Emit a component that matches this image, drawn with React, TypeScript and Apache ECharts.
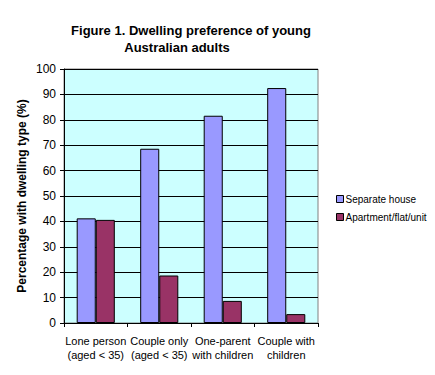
import React, { useEffect, useRef } from "react";
import * as echarts from "echarts";

const categories = ["Lone person\n(aged < 35)", "Couple only\n(aged < 35)", "One-parent\nwith children", "Couple with\nchildren"];
const separateHouse = [41.2, 68.6, 81.6, 92.5];
const apartment = [40.6, 18.7, 8.7, 3.5];
const yTicks = { min: 0, max: 100, interval: 10 };

export default function App() {
  const ref = useRef<HTMLDivElement>(null);
  useEffect(() => {
    const chart = echarts.init(ref.current!, null, { renderer: "svg" });
    const font = "Arial, 'Liberation Sans', sans-serif";
    chart.setOption({
      animation: false,
      backgroundColor: "#ffffff",
      textStyle: { fontFamily: font },
      title: [
        {
          text: "Figure 1. Dwelling preference of young",
          left: 186,
          top: 19,
          textAlign: "center",
          textStyle: { fontFamily: font, fontSize: 13, fontWeight: "bold", color: "#000" },
        },
        {
          text: "Australian adults",
          left: 172,
          top: 36,
          textAlign: "center",
          textStyle: { fontFamily: font, fontSize: 13, fontWeight: "bold", color: "#000" },
        },
      ],
      legend: {
        orient: "vertical",
        left: 331,
        top: 189,
        itemWidth: 7,
        itemHeight: 7,
        itemGap: 8,
        icon: "rect",
        textStyle: { fontFamily: font, fontSize: 10, color: "#000", padding: [0, 0, 0, -3] },
        data: [
          { name: "Separate house", itemStyle: { borderColor: "#000", borderWidth: 1 } },
          { name: "Apartment/flat/unit", itemStyle: { borderColor: "#000", borderWidth: 1 } },
        ],
      },
      grid: {
        left: 64,
        right: 117,
        top: 69,
        bottom: 52,
        show: true,
        backgroundColor: "#CCFFFF",
        borderColor: "#808080",
        borderWidth: 1,
      },
      xAxis: {
        type: "category",
        data: categories,
        axisLine: { lineStyle: { color: "#000", width: 1 } },
        axisTick: { show: true, length: 4, lineStyle: { color: "#000" } },
        axisLabel: {
          color: "#000",
          fontSize: 11,
          fontFamily: font,
          margin: 11,
          lineHeight: 14,
          interval: 0,
        },
      },
      yAxis: {
        type: "value",
        min: yTicks.min,
        max: yTicks.max,
        interval: yTicks.interval,
        name: "Percentage with dwelling type (%)",
        nameLocation: "middle",
        nameGap: 36,
        nameMoveOverlap: false,
        nameTextStyle: { fontFamily: font, fontSize: 12, fontWeight: "bold", color: "#000" },
        axisLine: { show: true, lineStyle: { color: "#000", width: 1 } },
        axisTick: { show: true, length: 4, lineStyle: { color: "#000" } },
        axisLabel: { color: "#000", fontSize: 12, fontFamily: font, margin: 8 },
        splitLine: { show: true, lineStyle: { color: "#000", width: 1 } },
      },
      series: [
        {
          name: "Separate house",
          type: "bar",
          data: separateHouse,
          barGap: "0%",
          barCategoryGap: "40%",
          itemStyle: { color: "#9999FF", borderColor: "#000", borderWidth: 1 },
        },
        {
          name: "Apartment/flat/unit",
          type: "bar",
          data: apartment,
          barGap: "0%",
          barCategoryGap: "40%",
          itemStyle: { color: "#993366", borderColor: "#000", borderWidth: 1 },
        },
      ],
    });
    return () => chart.dispose();
  }, []);
  return <div ref={ref} style={{ width: 435, height: 375, position: "absolute", left: 0, top: 0 }} />;
}
